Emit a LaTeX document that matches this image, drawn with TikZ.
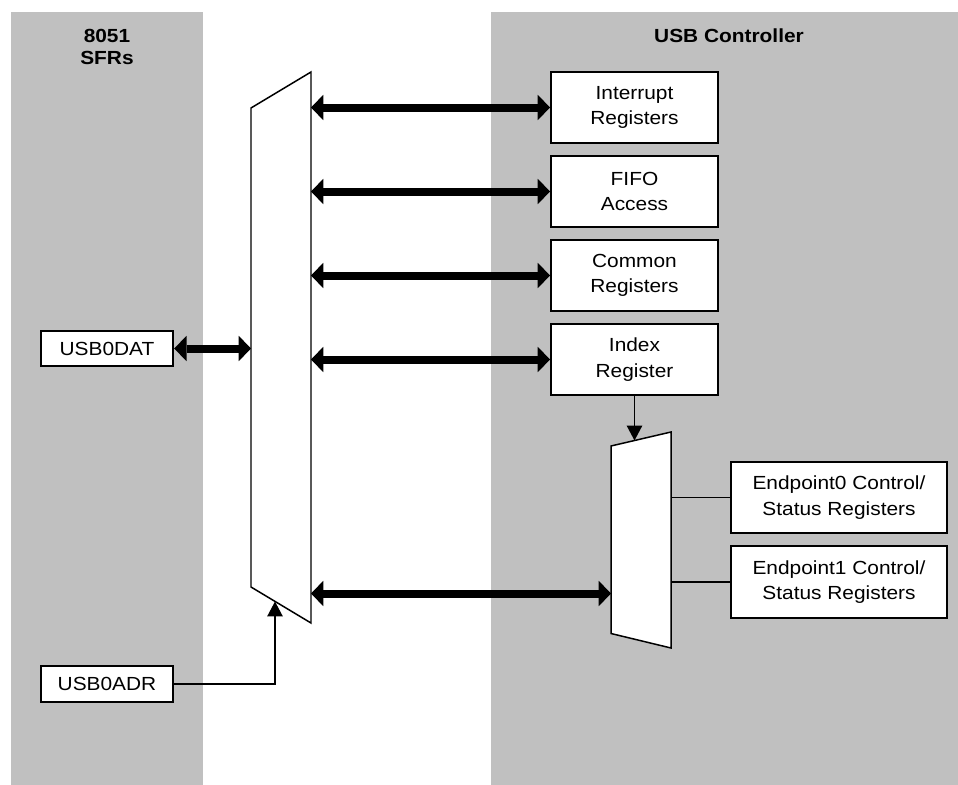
\documentclass[tikz,border=0pt]{standalone}
\usepackage{fontspec}
\setmainfont{Liberation Sans}[FakeStretch=1.1]
\usepackage{tikz}
\usetikzlibrary{arrows.meta}
\definecolor{panelgray}{HTML}{C0C0C0}

\begin{document}
\begin{tikzpicture}[
      panel/.style={fill=panelgray},
      title/.style={font=\fontsize{10.8}{12.5}\selectfont\bfseries,align=center,anchor=north,inner sep=0pt},
      reg/.style={draw,fill=white,line width=1.1pt,align=center,inner sep=0pt,minimum height=1.43cm,
        font=\fontsize{10.8}{14.6}\selectfont},
      sfr/.style={reg,minimum width=2.65cm,minimum height=0.71cm},
      mux/.style={draw,fill=white,line width=0.85pt,line join=miter},
      bus/.style={line width=4.55pt,
        {Triangle[width=14.5pt,length=7pt,line width=0pt]}-{Triangle[width=14.5pt,length=7pt,line width=0pt]}},
      sig/.style={line width=1pt},
      sigarr/.style={sig,-{Triangle[width=9pt,length=8.5pt,line width=0pt]}}]
    \useasboundingbox (0,0) rectangle (19.16,-15.7);
    % grey panels
    \fill[panel] (0.22,-0.24) rectangle (4.06,-15.7);
    \fill[panel] (9.82,-0.24) rectangle (19.16,-15.7);
    \node[title] (sfrs) at (2.14,-0.57) {8051\\SFRs};
    \node[title] (usbc) at (14.58,-0.57) {USB Controller};
    % muxes
    \draw[mux] (5.02,-2.16) -- (6.22,-1.44) -- (6.22,-12.46) -- (5.02,-11.74) -- cycle;
    \draw[mux] (12.22,-8.92) -- (13.42,-8.64) -- (13.42,-12.96) -- (12.22,-12.67) -- cycle;
    \coordinate (bmuxL) at (5.02,-6.95);
    \coordinate (bmuxR) at (6.22,-6.95);
    \coordinate (smuxR) at (13.42,-10.8);
    \coordinate (bmuxO) at (6.22,-11.87);
    \coordinate (smuxI) at (12.22,-11.87);
    \coordinate (adrin) at (5.5,-12.03);
    \coordinate (selin) at (12.69,-8.81);
    % registers
    \foreach \n/\yy/\txt in {intr/-2.15/{Interrupt\\Registers},fifo/-3.83/{FIFO\\Access},
        comm/-5.51/{Common\\Registers},idx/-7.19/{Index\\Register}} {
      \node[reg,minimum width=3.34cm] (\n) at (12.69,\yy) {\txt};
      \draw[bus] (bmuxR |- \n.west) -- (\n.west);
    }
    \node[reg,minimum width=4.32cm] (ep0) at (16.78,-9.95) {Endpoint0 Control/\\Status Registers};
    \node[reg,minimum width=4.32cm] (ep1) at (16.78,-11.64) {Endpoint1 Control/\\Status Registers};
    \node[sfr] (dat) at (2.14,-6.97) {USB0DAT};
    \node[sfr] (adr) at (2.14,-13.68) {USB0ADR};
    % connections
    \draw[bus] (dat.east) -- (bmuxL |- dat.east);
    \draw[bus] (bmuxO) -- (smuxI);
    \draw[sigarr] (adr.east) -| (adrin);
    \draw[sigarr] (idx.south) -- (selin);
    \draw[sig] (smuxR |- ep0.west) -- (ep0.west);
    \draw[sig] (smuxR |- ep1.west) -- (ep1.west);
  \end{tikzpicture}
\end{document}
